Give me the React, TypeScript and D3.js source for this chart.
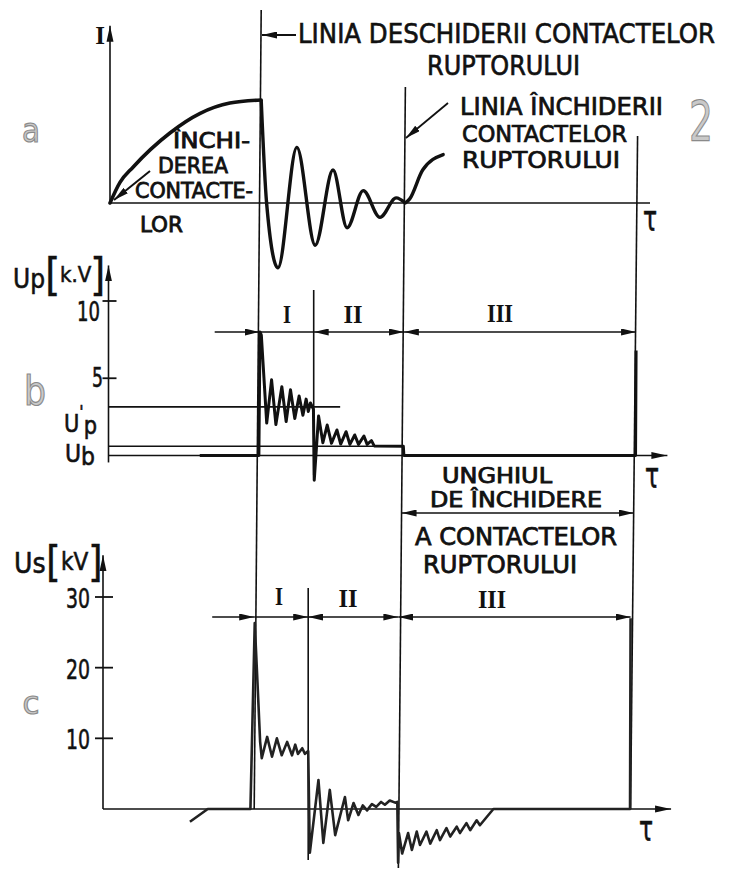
import React from "react";
import * as d3 from "d3";

// ---- event times on the τ axis (arbitrary units) ----
const T_OPEN = 28;
const T_II = 38;
const T_CLOSE = 54.7;
const T_END = 97.7;
const T_MAX = 100;

// ---- panel a: primary current I (relative units) ----
const chargeCurve: [number, number][] = [
  [0, 0], [1.85, 0.2], [4.3, 0.35], [11.1, 0.68], [16.7, 0.87], [22.2, 0.97], [28, 1],
];
const oscCurve: [number, number][] = [
  [28, 1], [29, 0], [31.1, -0.63], [34.6, 0.54], [38, -0.41], [41.3, 0.32], [43.9, -0.24],
  [46.9, 0.12], [50, -0.14], [53, 0.05], [54.7, 0],
];
const reclosedCurve: [number, number][] = [[54.7, 0], [55.5, 0.04], [57.9, 0.32], [61.7, 0.47]];

// ---- panel b: primary voltage Up [kV] ----
const primaryV: [number, number][] = [
  [16.9, 0], [27.85, 0], [28.05, 8.0], [28.3, 7.8], [29.3, 2.1], [30.2, 4.9], [31.0, 2.0],
  [32.1, 4.45], [32.9, 2.2], [33.7, 4.25], [34.5, 2.4], [35.3, 3.85], [36.0, 2.6], [36.6, 3.65],
  [37.0, 2.85], [37.4, 3.4], [37.8, 3.1], [37.95, 3.0], [38.1, -1.6], [38.9, 2.55], [39.7, 0.83],
  [40.5, 1.97], [41.3, 0.79], [42.3, 1.65], [43.0, 0.74], [44.0, 1.54], [44.7, 0.72], [45.6, 1.33],
  [46.3, 0.72], [47.3, 1.26], [47.9, 0.72], [48.7, 0.96], [49.2, 0.62], [54.6, 0.6], [54.7, 0],
  [97.6, 0], [97.7, 6.8],
];
const UP_TICKS = [10, 5];
const UP_PRIME = 3.15;
const U_B = 0.6;

// ---- panel c: secondary voltage Us [kV] ----
const secondaryV: [number, number][] = [
  [16.1, -1.8], [19.4, 0], [27.3, 0], [28.1, 26.3], [28.6, 18], [29.1, 9.5], [29.4, 7.2],
  [30.4, 10.2], [31.3, 7.4], [32.2, 10.0], [33.1, 7.6], [34.1, 9.5], [35.0, 7.6], [35.6, 9.1],
  [36.1, 7.8], [36.9, 8.6], [37.4, 7.8], [38.0, 8.2], [38.3, -6.2], [39.9, 4.1], [40.8, -4.8],
  [42.0, 2.7], [43.0, -3.7], [44.8, 1.7], [45.4, -1.6], [46.4, 0.85], [47.3, -0.85], [48.1, 0.5],
  [48.9, -0.2], [49.8, 0.7], [50.6, 0.3], [51.5, 1.0], [52.2, 0.6], [53.1, 1.2], [54.1, 0.9],
  [54.5, 1.0], [54.65, -7.6], [54.8, -3.4], [55.4, -6.3], [56.5, -3.4], [57.2, -5.8], [58.1, -3.2],
  [58.7, -5.1], [59.9, -3.2], [60.6, -4.9], [61.8, -3.0], [62.4, -4.4], [63.6, -2.7], [64.3, -3.9],
  [65.5, -2.5], [66.1, -3.4], [67.3, -2.0], [68.0, -3.0], [69.2, -1.6], [69.8, -2.3], [71.1, -1.1],
  [72.3, 0], [97.6, 0], [97.7, 27],
];
const US_TICKS = [30, 20, 10];
const REGIONS = ["I", "II", "III"];

const SANS = "'DejaVu Sans Condensed','DejaVu Sans',sans-serif";
const SERIF = "'Liberation Serif','DejaVu Serif',serif";
const INK = "#111";

type TP = {
  x: number; y: number; w?: number; fs: number; children: React.ReactNode;
  anchor?: "start" | "middle" | "end"; family?: string; weight?: number;
  fill?: string; stroke?: string; sw?: number; transform?: string;
};
function T({ x, y, w, fs, children, anchor = "start", family = SANS, weight = 400, fill = INK, stroke = INK, sw = 0.55, transform }: TP) {
  return (
    <text x={x} y={y} fontSize={fs} fontFamily={family} fontWeight={weight} textAnchor={anchor}
      textLength={w} lengthAdjust={w ? "spacingAndGlyphs" : undefined} fill={fill}
      stroke={stroke} strokeWidth={sw} transform={transform}>
      {children}
    </text>
  );
}

// one text block made of several lines
type Piece = { t: string; x: number; y: number; w: number; fs: number };
function Block({ pieces, sw = 0.6 }: { pieces: Piece[]; sw?: number }) {
  return (
    <text fontFamily={SANS} fill={INK} stroke={INK} strokeWidth={sw}>
      {pieces.map((p, i) => (
        <tspan key={i} x={p.x} y={p.y} fontSize={p.fs} textLength={p.w} lengthAdjust="spacingAndGlyphs">{p.t}</tspan>
      ))}
    </text>
  );
}

export default function App() {
  const xa = d3.scaleLinear().domain([0, T_MAX]).range([110, 650]);
  const xb = d3.scaleLinear().domain([0, T_MAX]).range([108.5, 648.5]);
  const xc = d3.scaleLinear().domain([0, T_MAX]).range([103, 643]);
  const ya = d3.scaleLinear().domain([0, 1]).range([203, 100]);
  const yb = d3.scaleLinear().domain([0, 10]).range([455.5, 301]);
  const yc = d3.scaleLinear().domain([0, 30]).range([809, 597]);

  const lineA = d3.line<[number, number]>().x(d => xa(d[0])).y(d => ya(d[1])).curve(d3.curveMonotoneX);
  const lineB = d3.line<[number, number]>().x(d => xb(d[0])).y(d => yb(d[1]));
  const lineC = d3.line<[number, number]>().x(d => xc(d[0])).y(d => yc(d[1]));

  // long construction lines run from panel a to panel c (slightly slanted, hand drawn)
  const longLine = (t: number, yTop: number, yBot: number) => ({ x1: xa(t), y1: yTop, x2: xc(t), y2: yBot });
  const xOnLong = (t: number, yTop: number, yBot: number, y: number) =>
    xa(t) + (xc(t) - xa(t)) * (y - yTop) / (yBot - yTop);

  const thin = { stroke: INK, strokeWidth: 1.6, fill: "none" } as const;
  const Y_DIM_B = 332;
  const Y_DIM_C = 617;
  const Y_ANGLE = 513;
  const closeTop = 87, closeBot = 868;
  const endTop = 136, endBot = yc(0);

  const grey = { fill: "#c9c9c9", stroke: "#8a8a8a", sw: 1.2, family: "'DejaVu Sans',sans-serif" };
  const roman = { family: SERIF, weight: 700, anchor: "middle" as const, sw: 0 };
  const lab = { fontFamily: SANS, fill: INK, stroke: INK, strokeWidth: 0.55 } as const;

  return (
    <svg width={735} height={871} style={{ position: "absolute", left: 0, top: 0, background: "#fff" }}
      fontFamily={SANS}>
      <defs>
        <marker id="ah" viewBox="0 0 15 7" refX={15} refY={3.5} markerWidth={15} markerHeight={7}
          markerUnits="userSpaceOnUse" orient="auto-start-reverse">
          <path d="M0,0 L15,3.5 L0,7 Z" fill={INK} />
        </marker>
        <marker id="ax" viewBox="0 0 16 8" refX={16} refY={4} markerWidth={16} markerHeight={8}
          markerUnits="userSpaceOnUse" orient="auto">
          <path d="M0,0.5 L16,4 L0,7.5 Z" fill={INK} />
        </marker>
      </defs>
      <rect width={735} height={871} fill="#fff" />

      {/* ===== panel a ===== */}
      <line x1={xa(0)} y1={ya(0)} x2={xa(0)} y2={ya(1.72)} {...thin} markerEnd="url(#ax)" />
      <line x1={xa(0)} y1={ya(0)} x2={xa(T_MAX)} y2={ya(0)} {...thin} />
      <T x={100} y={44} fs={25} {...roman}>I</T>
      <path d={lineA(chargeCurve) || ""} fill="none" stroke={INK} strokeWidth={3.6} strokeLinecap="round" />
      <path d={lineA(oscCurve) || ""} fill="none" stroke={INK} strokeWidth={3.4} strokeLinejoin="round" />
      <path d={lineA(reclosedCurve) || ""} fill="none" stroke={INK} strokeWidth={3.4} strokeLinecap="round" />
      <Block pieces={[
        { t: "ÎNCHI-", x: 173, y: 148, w: 77, fs: 21.5 },
        { t: "DEREA", x: 158, y: 173, w: 70, fs: 21.5 },
        { t: "CONTACTE-", x: 135, y: 198, w: 118, fs: 21.5 },
        { t: "LOR", x: 140, y: 232, w: 43, fs: 22 },
      ]} sw={0.8} />
      <line x1={150} y1={171} x2={xa(0) + 4} y2={ya(0) - 3} stroke={INK} strokeWidth={2} markerEnd="url(#ah)" />
      <T x={650} y={230} fs={26} sw={0.4} transform="translate(0,-84) scale(1,1.37)" anchor="middle">τ</T>

      {/* annotations a */}
      <Block pieces={[
        { t: "LINIA DESCHIDERII CONTACTELOR", x: 298, y: 43, w: 417, fs: 27 },
        { t: "RUPTORULUI", x: 427, y: 75, w: 153, fs: 26 },
      ]} />
      <line x1={296} y1={35} x2={xOnLong(T_OPEN, 10, yc(0), 35) + 1} y2={35} stroke={INK} strokeWidth={1.8} markerEnd="url(#ah)" />
      <Block pieces={[
        { t: "LINIA ÎNCHIDERII", x: 460, y: 115, w: 203, fs: 24.5 },
        { t: "CONTACTELOR", x: 462, y: 142, w: 165, fs: 23 },
        { t: "RUPTORULUI", x: 462, y: 168, w: 158, fs: 22.5 },
      ]} sw={0.7} />
      <line x1={448} y1={103} x2={xOnLong(T_CLOSE, closeTop, closeBot, 138) + 1} y2={138} stroke={INK} strokeWidth={1.8} markerEnd="url(#ah)" />
      <T x={701} y={140} w={24} fs={56} anchor="middle" {...grey}>2</T>
      <T x={31} y={142} w={18} fs={34} anchor="middle" {...grey}>a</T>

      {/* ===== long construction lines ===== */}
      <line {...longLine(T_OPEN, 10, yc(0))} {...thin} />
      <line {...longLine(T_CLOSE, closeTop, closeBot)} {...thin} />
      <line {...longLine(T_END, endTop, endBot)} {...thin} />

      {/* ===== panel b ===== */}
      <line x1={xb(0)} y1={yb(-0.45)} x2={xb(0)} y2={yb(12.3)} {...thin} markerEnd="url(#ax)" />
      <line x1={xb(0)} y1={yb(0)} x2={xb(103.5)} y2={yb(0)} {...thin} markerEnd="url(#ax)" />
      {UP_TICKS.map(v => (
        <g key={v}>
          <line x1={xb(0) - 6} x2={xb(0) + 8} y1={yb(v)} y2={yb(v)} stroke={INK} strokeWidth={1.8} />
          <T x={v === 10 ? 100 : 103} y={yb(v) + (v === 10 ? 20 : 9)} w={v === 10 ? 23 : 11} fs={26} anchor="end">{String(v)}</T>
        </g>
      ))}
      <line x1={xb(0)} x2={xb(42.9)} y1={yb(UP_PRIME)} y2={yb(UP_PRIME)} {...thin} />
      <line x1={xb(0)} x2={xb(T_CLOSE)} y1={yb(U_B)} y2={yb(U_B)} {...thin} />
      <line x1={xb(T_II)} x2={xb(T_II)} y1={290} y2={475} {...thin} />
      <path d={lineB(primaryV) || ""} fill="none" stroke={INK} strokeWidth={3} strokeLinejoin="round" />
      {/* axis label Up [kV] : pieces placed side by side */}
      <text x={13} y={288} fontSize={26} {...lab}>Up</text>
      <text x={45} y={290} fontSize={44} {...lab} strokeWidth={0.3}>[</text>
      <text x={60} y={282} fontSize={22} {...lab}>k.V</text>
      <text x={90} y={290} fontSize={44} {...lab} strokeWidth={0.3}>]</text>
      <text x={64} y={432} fontSize={24} textLength={33} lengthAdjust="spacingAndGlyphs" {...lab}>
        U<tspan dy={-14} fontSize={18}>'</tspan><tspan dy={16}>p</tspan>
      </text>
      <text x={65} y={462} fontSize={24} textLength={30} lengthAdjust="spacingAndGlyphs" {...lab}>
        U<tspan dy={3}>b</tspan>
      </text>
      <T x={35} y={405} w={22} fs={40} anchor="middle" {...grey}>b</T>
      {/* dimension arrows b */}
      <line x1={xb(T_OPEN) - 45} x2={xb(T_OPEN)} y1={Y_DIM_B} y2={Y_DIM_B} {...thin} markerEnd="url(#ah)" />
      <line x1={xb(T_OPEN)} x2={xb(T_II)} y1={Y_DIM_B} y2={Y_DIM_B} {...thin} />
      <line x1={xb(T_II)} x2={xb(T_CLOSE)} y1={Y_DIM_B} y2={Y_DIM_B} {...thin} markerStart="url(#ah)" markerEnd="url(#ah)" />
      <line x1={xb(T_CLOSE)} x2={xb(T_END)} y1={Y_DIM_B} y2={Y_DIM_B} {...thin} markerStart="url(#ah)" markerEnd="url(#ah)" />
      <T x={287} y={323} w={8} fs={26} {...roman}>{REGIONS[0]}</T>
      <T x={353} y={323} w={19} fs={26} {...roman}>{REGIONS[1]}</T>
      <T x={500} y={322} w={26} fs={26} {...roman}>{REGIONS[2]}</T>
      <T x={652} y={488} fs={26} sw={0.4} transform="translate(0,-176) scale(1,1.36)" anchor="middle">τ</T>

      {/* closing angle */}
      <line x1={xOnLong(T_CLOSE, closeTop, closeBot, Y_ANGLE)} x2={xOnLong(T_END, endTop, endBot, Y_ANGLE)}
        y1={Y_ANGLE} y2={Y_ANGLE} {...thin} markerStart="url(#ah)" markerEnd="url(#ah)" />
      <Block pieces={[
        { t: "UNGHIUL", x: 442, y: 483, w: 110, fs: 20.5 },
        { t: "DE ÎNCHIDERE", x: 430, y: 507, w: 172, fs: 20.5 },
        { t: "A CONTACTELOR", x: 415, y: 545, w: 202, fs: 24 },
        { t: "RUPTORULUI", x: 423, y: 573, w: 154, fs: 24 },
      ]} sw={0.75} />

      {/* ===== panel c ===== */}
      <line x1={xc(0)} y1={yc(0)} x2={xc(0)} y2={yc(35.9)} {...thin} markerEnd="url(#ax)" />
      <line x1={xc(0)} y1={yc(0)} x2={xc(105.2)} y2={yc(0)} {...thin} markerEnd="url(#ax)" />
      {US_TICKS.map(v => (
        <g key={v}>
          <line x1={xc(0) - 8} x2={xc(0) + 10} y1={yc(v)} y2={yc(v)} stroke={INK} strokeWidth={1.8} />
          <T x={90} y={yc(v) + 11} w={24} fs={26} anchor="end">{String(v)}</T>
        </g>
      ))}
      <line x1={xc(T_II)} x2={xc(T_II)} y1={588} y2={860} {...thin} />
      <path d={lineC(secondaryV) || ""} fill="none" stroke="#222" strokeWidth={2.6} strokeLinejoin="round" />
      <text x={14} y={573} fontSize={28} {...lab}>Us</text>
      <text x={46} y={577} fontSize={42} {...lab} strokeWidth={0.3}>[</text>
      <text x={61} y={570} fontSize={24} {...lab}>kV</text>
      <text x={88} y={577} fontSize={42} {...lab} strokeWidth={0.3}>]</text>
      <T x={31} y={714} w={17} fs={32} anchor="middle" {...grey}>c</T>
      {/* dimension arrows c */}
      <line x1={xc(T_OPEN) - 42} x2={xc(T_OPEN)} y1={Y_DIM_C} y2={Y_DIM_C} {...thin} markerEnd="url(#ah)" />
      <line x1={xc(T_OPEN)} x2={xc(T_II)} y1={Y_DIM_C} y2={Y_DIM_C} {...thin} markerEnd="url(#ah)" />
      <line x1={xc(T_II)} x2={xc(T_CLOSE)} y1={Y_DIM_C} y2={Y_DIM_C} {...thin} markerStart="url(#ah)" markerEnd="url(#ah)" />
      <line x1={xc(T_CLOSE)} x2={xc(T_END)} y1={Y_DIM_C} y2={Y_DIM_C} {...thin} markerStart="url(#ah)" markerEnd="url(#ah)" />
      <T x={279} y={605} w={8} fs={26} {...roman}>{REGIONS[0]}</T>
      <T x={348} y={607} w={19} fs={26} {...roman}>{REGIONS[1]}</T>
      <T x={492} y={608} w={28} fs={26} {...roman}>{REGIONS[2]}</T>
      <T x={646} y={838} fs={26} sw={0.4} transform="translate(0,-290) scale(1,1.35)" anchor="middle">τ</T>
    </svg>
  );
}
